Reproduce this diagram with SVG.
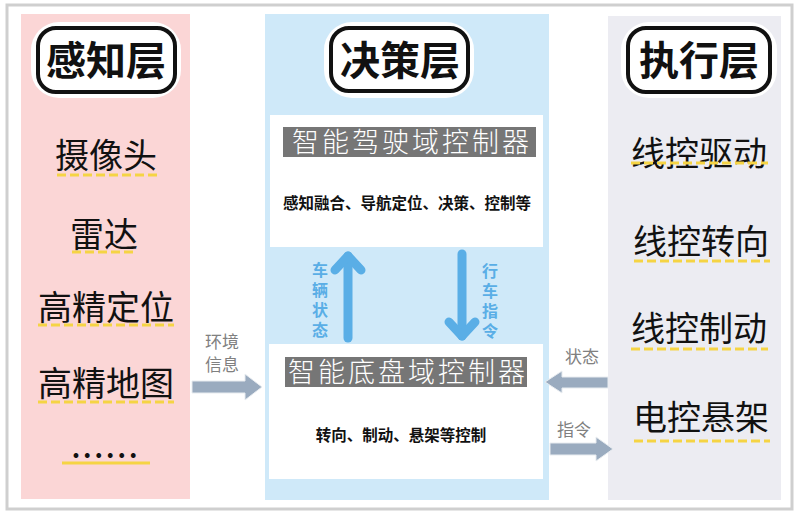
<svg xmlns="http://www.w3.org/2000/svg" width="800" height="515" viewBox="0 0 800 515">
<defs>
<style>
.t{font-family:"Noto Sans CJK SC","Noto Sans",sans-serif;text-anchor:middle}
.title{font-size:40px;font-weight:700;fill:#111}
.item{font-size:34px;fill:#111}
.hdr{font-size:27px;fill:#fff;font-weight:300;letter-spacing:3px}
.sub{font-size:15.5px;fill:#111;font-weight:700}
.lbl{font-size:17px;fill:#808080}
.vl{font-size:16px;fill:#5aaee6;font-weight:700;writing-mode:vertical-rl;letter-spacing:4px}
.ul{stroke:#f5d444;stroke-width:3;stroke-dasharray:9 4;fill:none}
.halo{fill:#fff}
.tbox{fill:#fff;stroke:#111;stroke-width:4}
.blk{fill:#9aabbf;stroke:#e8ecf0;stroke-width:1}
.va{stroke:#5aaee6;stroke-width:9;fill:none;stroke-linecap:round;stroke-linejoin:round}
</style>
</defs>
<rect x="0" y="0" width="800" height="515" fill="#fff"/>
<rect x="7" y="5" width="785" height="504" fill="#fff" stroke="#cfcfcf" stroke-width="3"/>

<g id="perception">
<rect x="21" y="14" width="169" height="485" fill="#fbd6d6"/>
<rect class="halo" x="31" y="22" width="150" height="76" rx="28"/>
<rect class="tbox" x="38" y="28" width="137" height="64" rx="18"/>
<text class="t title" x="106" y="75">感知层</text>
<text class="t item" x="106" y="168">摄像头</text>
<line class="ul" x1="57" y1="175" x2="157" y2="175"/>
<text class="t item" x="104" y="247">雷达</text>
<line class="ul" x1="72" y1="252" x2="136" y2="252"/>
<text class="t item" x="106" y="320">高精定位</text>
<line class="ul" x1="38" y1="325" x2="174" y2="325"/>
<text class="t item" x="106" y="396">高精地图</text>
<line class="ul" x1="38" y1="402" x2="174" y2="402"/>
<text class="t" x="106" y="458" style="font-size:26px;font-weight:700;letter-spacing:3px;fill:#111">......</text>
<line x1="62" y1="463" x2="150" y2="463" stroke="#f5d444" stroke-width="3"/>
</g>

<g id="decision">
<rect x="265" y="14" width="284" height="486" fill="#cfe9f9"/>
<rect class="halo" x="324" y="22" width="150" height="76" rx="28"/>
<rect class="tbox" x="331" y="28" width="137" height="63" rx="18"/>
<text class="t title" x="400" y="75">决策层</text>
</g>

<g id="adc">
<rect x="270" y="115" width="273" height="132" fill="#fff"/>
<rect x="283" y="127" width="253" height="30" fill="#767676"/>
<text class="t hdr" x="412" y="152">智能驾驶域控制器</text>
<text class="t sub" x="407" y="209">感知融合、导航定位、决策、控制等</text>
</g>

<g id="cdc">
<rect x="269" y="344" width="274" height="135" fill="#fff"/>
<rect x="285" y="357" width="242" height="30" fill="#767676"/>
<text class="t hdr" x="408" y="382">智能底盘域控制器</text>
<text class="t sub" x="401" y="441">转向、制动、悬架等控制</text>
</g>

<g id="execution">
<rect x="608" y="16" width="173" height="484" fill="#ececf2"/>
<rect class="halo" x="621" y="22" width="156" height="76" rx="28"/>
<rect class="tbox" x="628" y="28" width="142" height="64" rx="18"/>
<text class="t title" x="699" y="75">执行层</text>
<text class="t item" x="699" y="166">线控驱动</text>
<line class="ul" x1="631" y1="163" x2="768" y2="163"/>
<text class="t item" x="701" y="254">线控转向</text>
<line class="ul" x1="634" y1="261" x2="770" y2="261"/>
<text class="t item" x="699" y="341">线控制动</text>
<line class="ul" x1="631" y1="349" x2="768" y2="349"/>
<text class="t item" x="701" y="430">电控悬架</text>
<line class="ul" x1="634" y1="441" x2="770" y2="441"/>
</g>

<g id="connectors">
<polygon class="blk" points="192,381 245,381 245,374 262,387 245,400 245,393 192,393"/>
<text class="t lbl" x="222" y="348">环境<tspan x="222" dy="23">信息</tspan></text>

<polyline class="va" points="348,338 348,256"/>
<polyline class="va" points="335,270 348,256 361,270"/>
<text class="t vl" x="320" y="302">车辆状态</text>

<polyline class="va" points="462,254 462,336"/>
<polyline class="va" points="449,322 462,336 475,322"/>
<text class="t vl" x="490" y="303">行车指令</text>

<polygon class="blk" points="608,377 562,377 562,371 545,382 562,393 562,388 608,388"/>
<text class="t lbl" x="582" y="363">状态</text>
<polygon class="blk" points="550,443 596,443 596,437 613,449 596,461 596,455 550,455"/>
<text class="t lbl" x="574" y="436">指令</text>
</g>
</svg>
